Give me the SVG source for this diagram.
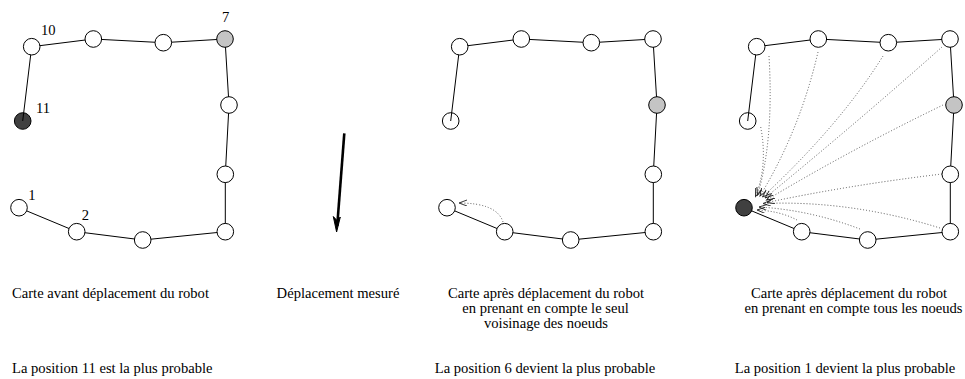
<svg xmlns="http://www.w3.org/2000/svg" width="965" height="379" viewBox="0 0 965 379">
<style>
.nd{fill:#fff;stroke:#000;stroke-width:1}
.gr{fill:#c4c4c4;stroke:#000;stroke-width:1}
.dk{fill:#404040;stroke:#000;stroke-width:1}
.ed{fill:none;stroke:#000;stroke-width:1}
.dt{fill:none;stroke:#555;stroke-width:1;stroke-dasharray:1 2;marker-end:url(#ah)}
text{font-family:"Liberation Serif","Times New Roman",serif;font-size:14.6px;fill:#000}
.c{text-anchor:middle}
</style>
<defs>
<marker id="ah" markerUnits="userSpaceOnUse" markerWidth="10" markerHeight="8" refX="8" refY="3" orient="auto">
<path d="M0,0 L8,3 L0,6" fill="none" stroke="#222" stroke-width="0.9"/>
</marker>
</defs>
<!-- node 11 groups drawn first so the edge reaches their centre -->
<g id="g1-n11"><circle class="dk" cx="22.7" cy="121" r="8.3"/><text x="36" y="112.7">11</text></g>
<g id="g2-n11"><circle class="nd" cx="450.7" cy="121" r="8.3"/></g>
<g id="g3-n11"><circle class="nd" cx="747.7" cy="121" r="8.3"/></g>
<g id="connectors">
<polyline class="ed" points="22.7,121 31.7,46.7 93.3,39 163.3,42.7 225,39 229,105 225.3,174.3 225.3,231.7 142.7,240 76.7,231.7 19,207.7"/>
<polyline class="ed" points="450.7,121 459.7,46.7 521.3,39 591.3,42.7 653,39 657,105 653.3,174.3 653.3,231.7 570.7,240 504.7,231.7 447,207.7"/>
<polyline class="ed" points="747.7,121 756.7,46.7 818.3,39 888.3,42.7 950,39 954,105 950.3,174.3 950.3,231.7 867.7,240 801.7,231.7 744,207.7"/>
<path class="dt" d="M503,222 Q497,203 459,203"/>
<path class="dt" d="M760.7,127 Q768,165 755.5,196.5"/>
<path class="dt" d="M769,56 Q774,140 757.5,195.5"/>
<path class="dt" d="M818,52 Q800,130 760,196"/>
<path class="dt" d="M883,56 Q840,125 762.5,197"/>
<path class="dt" d="M942,47 Q860,120 765,198"/>
<path class="dt" d="M943,105 Q850,150 766.5,200"/>
<path class="dt" d="M942,174 Q850,185 767,202.5"/>
<path class="dt" d="M940,228 Q850,200 763,203.5"/>
<path class="dt" d="M860,229 Q810,210 759,207"/>
<path class="dt" d="M797,220 Q780,211 757,210"/>
<line x1="344.3" y1="133.3" x2="337.2" y2="226" stroke="#000" stroke-width="2.6"/>
<polygon points="336.6,232 333.3,216.5 337,220.5 340.3,217" fill="#000" stroke="#000" stroke-width="1" stroke-linejoin="miter"/>
</g>
<g id="g1-n1"><circle class="nd" cx="19" cy="207.7" r="8.3"/><text x="28.3" y="200.3">1</text></g>
<g id="g1-n2"><circle class="nd" cx="76.7" cy="231.7" r="8.3"/><text x="81.7" y="220">2</text></g>
<g id="g1-n3"><circle class="nd" cx="142.7" cy="240" r="8.3"/></g>
<g id="g1-n4"><circle class="nd" cx="225.3" cy="231.7" r="8.3"/></g>
<g id="g1-n5"><circle class="nd" cx="225.3" cy="174.3" r="8.3"/></g>
<g id="g1-n6"><circle class="nd" cx="229" cy="105" r="8.3"/></g>
<g id="g1-n7"><circle class="gr" cx="225" cy="39" r="8.3"/><text x="222" y="21.7">7</text></g>
<g id="g1-n8"><circle class="nd" cx="163.3" cy="42.7" r="8.3"/></g>
<g id="g1-n9"><circle class="nd" cx="93.3" cy="39" r="8.3"/></g>
<g id="g1-n10"><circle class="nd" cx="31.7" cy="46.7" r="8.3"/><text x="41" y="34.7">10</text></g>
<g id="g2-n1"><circle class="nd" cx="447" cy="207.7" r="8.3"/></g>
<g id="g2-n2"><circle class="nd" cx="504.7" cy="231.7" r="8.3"/></g>
<g id="g2-n3"><circle class="nd" cx="570.7" cy="240" r="8.3"/></g>
<g id="g2-n4"><circle class="nd" cx="653.3" cy="231.7" r="8.3"/></g>
<g id="g2-n5"><circle class="nd" cx="653.3" cy="174.3" r="8.3"/></g>
<g id="g2-n6"><circle class="gr" cx="657" cy="105" r="8.3"/></g>
<g id="g2-n7"><circle class="nd" cx="653" cy="39" r="8.3"/></g>
<g id="g2-n8"><circle class="nd" cx="591.3" cy="42.7" r="8.3"/></g>
<g id="g2-n9"><circle class="nd" cx="521.3" cy="39" r="8.3"/></g>
<g id="g2-n10"><circle class="nd" cx="459.7" cy="46.7" r="8.3"/></g>
<g id="g3-n1"><circle class="dk" cx="744" cy="207.7" r="8.3"/></g>
<g id="g3-n2"><circle class="nd" cx="801.7" cy="231.7" r="8.3"/></g>
<g id="g3-n3"><circle class="nd" cx="867.7" cy="240" r="8.3"/></g>
<g id="g3-n4"><circle class="nd" cx="950.3" cy="231.7" r="8.3"/></g>
<g id="g3-n5"><circle class="nd" cx="950.3" cy="174.3" r="8.3"/></g>
<g id="g3-n6"><circle class="gr" cx="954" cy="105" r="8.3"/></g>
<g id="g3-n7"><circle class="nd" cx="950" cy="39" r="8.3"/></g>
<g id="g3-n8"><circle class="nd" cx="888.3" cy="42.7" r="8.3"/></g>
<g id="g3-n9"><circle class="nd" cx="818.3" cy="39" r="8.3"/></g>
<g id="g3-n10"><circle class="nd" cx="756.7" cy="46.7" r="8.3"/></g>
<g id="captions">
<text x="12" y="298.3">Carte avant déplacement du robot</text>
<text class="c" x="338" y="298.3">Déplacement mesuré</text>
<text class="c" x="546" y="298.3">Carte après déplacement du robot</text>
<text class="c" x="545.5" y="313.3">en prenant en compte le seul</text>
<text class="c" x="546" y="328.3">voisinage des noeuds</text>
<text class="c" x="849" y="298.3">Carte après déplacement du robot</text>
<text class="c" x="853.5" y="313.3">en prenant en compte tous les noeuds</text>
<text x="12" y="373">La position 11 est la plus probable</text>
<text class="c" x="545" y="373">La position 6 devient la plus probable</text>
<text class="c" x="845" y="373">La position 1 devient la plus probable</text>
</g>
</svg>
